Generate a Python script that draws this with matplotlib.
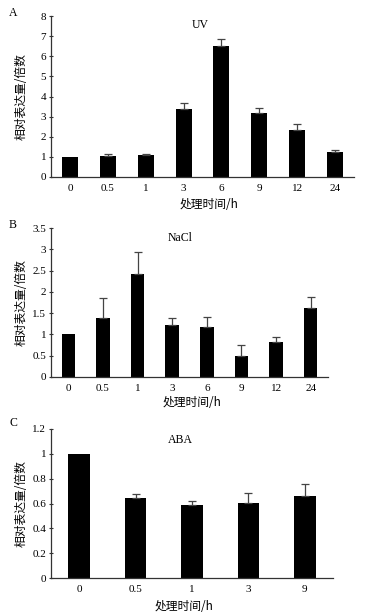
import matplotlib
matplotlib.use("Agg")
import matplotlib.pyplot as plt
import numpy as np

# Data
uv_cats = ["0", "0.5", "1", "3", "6", "9", "12", "24"]
uv_vals = [1.0, 1.06, 1.08, 3.40, 6.52, 3.17, 2.36, 1.25]
uv_err = [0.0, 0.09, 0.08, 0.28, 0.33, 0.27, 0.25, 0.11]

nacl_cats = ["0", "0.5", "1", "3", "6", "9", "12", "24"]
nacl_vals = [1.0, 1.38, 2.41, 1.23, 1.17, 0.50, 0.83, 1.63]
nacl_err = [0.0, 0.48, 0.52, 0.15, 0.25, 0.26, 0.11, 0.24]

aba_cats = ["0", "0.5", "1", "3", "9"]
aba_vals = [1.0, 0.645, 0.587, 0.605, 0.66]
aba_err = [0.0, 0.03, 0.033, 0.08, 0.097]

ylabel = "相对表达量/倍数"
xlabel = "处理时间/h"

SERIF = ["Liberation Serif", "DejaVu Serif"]
CJK = ["Noto Sans CJK SC", "DejaVu Sans"]

W, H = 367, 615
fig = plt.figure(figsize=(W / 100, H / 100), dpi=100)

panels = [
    dict(left=51, right=354, top=16, bottom=177, cats=uv_cats, vals=uv_vals, err=uv_err,
         ylim=(0, 8), yticks=np.arange(0, 9, 1), title="UV", title_xy=(200, 25), letter="A",
         letter_y=13, width=0.42, xlab_xy=(209, 205)),
    dict(left=51, right=328, top=228, bottom=377, cats=nacl_cats, vals=nacl_vals, err=nacl_err,
         ylim=(0, 3.5), yticks=np.arange(0, 3.51, 0.5), title="NaCl", title_xy=(180, 238), letter="B",
         letter_y=225, width=0.39, xlab_xy=(192, 403)),
    dict(left=51, right=333, top=429, bottom=578, cats=aba_cats, vals=aba_vals, err=aba_err,
         ylim=(0, 1.2), yticks=np.arange(0, 1.21, 0.2), title="ABA", title_xy=(180, 440), letter="C",
         letter_y=423, width=0.385, xlab_xy=(184, 606)),
]

for p in panels:
    wpx = p["right"] - p["left"]
    hpx = p["bottom"] - p["top"]
    ax = fig.add_axes([p["left"] / W, 1 - p["bottom"] / H, wpx / W, hpx / H])
    x = np.arange(len(p["cats"]))
    ax.bar(x, p["vals"], width=p["width"], color="black", zorder=2)
    errs = np.array(p["err"])
    mask = errs > 0
    ax.errorbar(x[mask], np.array(p["vals"])[mask], yerr=[np.zeros(mask.sum()), errs[mask]],
                fmt="none", ecolor="#444444", elinewidth=0.9, capsize=2.6, capthick=0.9, zorder=3)
    ax.set_xlim(-0.5, len(p["cats"]) - 0.5)
    ax.set_ylim(*p["ylim"])
    ax.set_yticks(p["yticks"])
    ax.set_yticklabels([f"{round(v, 2):g}" for v in p["yticks"]], fontfamily=SERIF, fontsize=8)
    ax.set_xticks(x)
    ax.set_xticklabels(p["cats"], fontfamily=SERIF, fontsize=8)
    ax.tick_params(axis="x", length=0, pad=5)
    ax.tick_params(axis="y", direction="inout", length=3, width=0.8, pad=2, color="#333333")
    for s in ["top", "right"]:
        ax.spines[s].set_visible(False)
    for s in ["left", "bottom"]:
        ax.spines[s].set_color("#333333")
        ax.spines[s].set_linewidth(0.9)
    ax.set_ylabel(ylabel, fontfamily=CJK, fontsize=8.5, va="center")
    ax.yaxis.set_label_coords((21 - p["left"]) / wpx, 0.5)
    ax.set_xlabel(xlabel, fontfamily=CJK, fontsize=8.5, va="center")
    ax.xaxis.set_label_coords((p["xlab_xy"][0] - p["left"]) / wpx, -(p["xlab_xy"][1] - p["bottom"]) / hpx)
    fig.text(p["title_xy"][0] / W, 1 - p["title_xy"][1] / H, p["title"], fontfamily=SERIF,
             fontsize=8.5, ha="center", va="center")
    fig.text(13 / W, 1 - p["letter_y"] / H, p["letter"], fontfamily=SERIF, fontsize=8.5,
             ha="center", va="center")

fig.savefig("out.png", dpi=100)
